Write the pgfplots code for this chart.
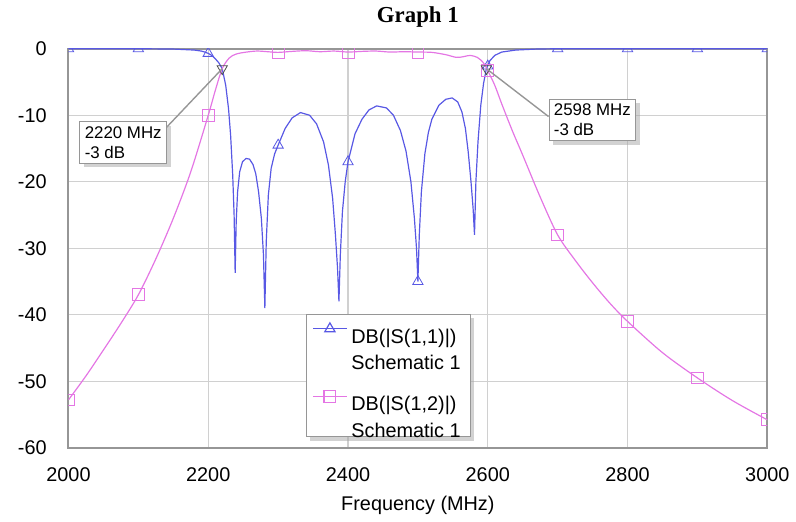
\documentclass[border=0pt]{standalone}
\usepackage{pgfplots}
\pgfplotsset{compat=1.18}
\usetikzlibrary{shadows}
\usepackage{fontspec}
\setmainfont{Liberation Sans}
\newfontfamily\titlefont{Liberation Serif}

\definecolor{sOne}{RGB}{88,88,228}
\definecolor{sTwo}{RGB}{228,118,228}
\definecolor{gridc}{RGB}{208,208,208}
\definecolor{framec}{RGB}{150,150,150}

\begin{document}
\begin{tikzpicture}
\begin{axis}[
  at={(0,0)}, anchor=south west,
  scale only axis, width=352pt, height=201pt,
  xmin=2000, xmax=3000, ymin=-60, ymax=0,
  xtick={2000,2200,...,3000}, ytick={-60,-50,...,0},
  scaled x ticks=false,
  clip marker paths=true,
  grid=major, major grid style={gridc, line width=0.6pt},
  axis line style={framec, line width=1pt},
  major tick length=0pt,
  tick label style={font=\fontsize{10}{12}\selectfont,
    /pgf/number format/assume math mode=true,
    /pgf/number format/1000 sep={}},
  xticklabel style={yshift=-6.5pt},
  yticklabel style={xshift=-7.5pt},
  xlabel={Frequency (MHz)},
  xlabel style={at={(axis description cs:0.5,0)}, anchor=center,
    yshift=-29pt, font=\fontsize{10}{12}\selectfont},
  title={\titlefont\bfseries Graph 1},
  title style={at={(axis description cs:0.5,1)}, anchor=center,
    yshift=10pt, font=\fontsize{11.5}{13}\selectfont},
  legend style={at={(rel axis cs:0.34,0.335)}, anchor=north west,
    draw=framec, fill=white,
    drop shadow={shadow xshift=2pt, shadow yshift=-2pt, fill=gray!70},
    font=\fontsize{10}{13.5}\selectfont, row sep=12.5pt, inner sep=3pt},
  legend cell align=left,
  legend image code/.code={\tikzset{every shadow/.style={opacity=0}}%
    \draw[mark repeat=2, mark phase=2, #1]
    plot coordinates {(0pt,6.5pt) (8.5pt,6.5pt) (17pt,6.5pt)};},
]
% S11 line
\addplot[sOne, line width=0.6pt, forget plot] coordinates {
 (2000,0) (2100,0) (2150,-0.05) (2180,-0.2) (2190,-0.35) (2195,-0.5)
 (2200,-0.7) (2205,-1.0) (2210,-1.5) (2215,-2.1) (2220,-3) (2225,-5.5)
 (2229,-9) (2232,-13) (2235,-19) (2237,-25) (2238.5,-33.7) (2240,-26)
 (2242,-21.5) (2245,-18.5) (2249,-17) (2254,-16.5) (2259,-16.6) (2264,-17.4)
 (2268,-18.8) (2272,-21.5) (2276,-25.5) (2279,-31) (2281,-39) (2283,-29)
 (2286,-22) (2290,-18) (2295,-15.8) (2300,-14.5) (2310,-12) (2320,-10.4)
 (2332,-9.6) (2345,-10) (2355,-11.3) (2365,-14) (2372,-17.5) (2378,-22.5)
 (2382,-28) (2385,-33) (2387,-38) (2389,-31) (2392,-24.5) (2396,-20)
 (2400,-17) (2410,-12.8) (2420,-10.6) (2430,-9.2) (2441,-8.6) (2455,-8.9)
 (2465,-10) (2475,-12.3) (2483,-15.4) (2490,-20) (2495,-25.5) (2498,-30)
 (2500,-35) (2502,-28) (2505,-21.5) (2510,-15.8) (2515,-12.6) (2520,-10.6)
 (2530,-8.5) (2540,-7.6) (2549,-7.4) (2557,-8) (2563,-9.5) (2568,-12)
 (2572,-15.5) (2576,-20) (2579,-24) (2581,-28) (2583,-20) (2586,-14)
 (2590,-8.5) (2594,-5.2) (2598,-3) (2603,-1.8) (2610,-1) (2620,-0.5)
 (2640,-0.2) (2670,-0.05) (2700,0) (3000,0)
};
\addplot[sOne, only marks, mark=triangle, mark size=3pt, forget plot] coordinates {
 (2000,0) (2100,0) (2200,-0.7) (2300,-14.5) (2400,-17) (2500,-35)
 (2600,-2.6) (2700,0) (2800,0) (2900,0) (3000,0)
};
% S12 line
\addplot[sTwo, line width=0.6pt, smooth, forget plot] coordinates {
 (2000,-52.8) (2025,-49.2) (2050,-45.3) (2075,-41.3) (2100,-37)
 (2125,-31.6) (2150,-25.5) (2175,-18.5) (2200,-10) (2210,-6.3)
 (2220,-3) (2230,-1.4) (2240,-0.8) (2255,-0.5) (2270,-0.35) (2285,-0.45)
 (2300,-0.55) (2320,-0.4) (2340,-0.3) (2360,-0.45) (2380,-0.35) (2400,-0.5)
 (2420,-0.4) (2440,-0.35) (2460,-0.5) (2480,-0.45) (2500,-0.5) (2520,-0.55)
 (2540,-0.9) (2555,-1.3) (2565,-1.2) (2575,-1.0) (2585,-1.3) (2590,-1.7)
 (2595,-2.3) (2600,-3.3) (2610,-5.5) (2620,-8.3) (2635,-12.3) (2650,-16)
 (2675,-22.3) (2700,-28) (2725,-31.8) (2750,-35.2) (2775,-38.3) (2800,-41)
 (2850,-45.7) (2900,-49.5) (2950,-52.9) (3000,-55.8)
};
\addplot[sTwo, only marks, mark=square, mark size=3pt, forget plot] coordinates {
 (2000,-52.8) (2100,-37) (2200,-10) (2300,-0.55) (2400,-0.5) (2500,-0.5)
 (2600,-3.3) (2700,-28) (2800,-41) (2900,-49.5) (3000,-55.8)
};
% -3 dB markers
\addplot[black!70, only marks, mark=triangle, mark size=3pt,
  mark options={rotate=180}, forget plot] coordinates {(2220,-3) (2598,-3)};

% annotations
\draw[framec, line width=0.7pt] (axis cs:2136,-12.3) -- (axis cs:2220,-3);
\draw[framec, line width=0.7pt] (axis cs:2687,-10.2) -- (axis cs:2598,-3);
\node[draw=framec, fill=white, drop shadow={shadow xshift=2pt, shadow yshift=-2pt, fill=gray!70},
  align=left, font=\fontsize{8.5}{10}\selectfont, inner sep=2.5pt, anchor=north west]
  at (axis cs:2015.6,-10.9) {2220 MHz\\-3 dB};
\node[draw=framec, fill=white, drop shadow={shadow xshift=2pt, shadow yshift=-2pt, fill=gray!70},
  align=left, font=\fontsize{8.5}{10}\selectfont, inner sep=2.5pt, anchor=north west]
  at (axis cs:2687,-7.5) {2598 MHz\\-3 dB};

\addlegendimage{sOne, line width=0.6pt, mark=triangle, mark size=3pt}
\addlegendentry{\begin{tabular}{@{}l@{}}DB(|S(1,1)|)\\Schematic 1\end{tabular}}
\addlegendimage{sTwo, line width=0.6pt, mark=square, mark size=3pt}
\addlegendentry{\begin{tabular}{@{}l@{}}DB(|S(1,2)|)\\Schematic 1\end{tabular}}
\end{axis}
\path (-34.5pt,-36.5pt) rectangle (363.5pt,221pt);
\end{tikzpicture}
\end{document}
